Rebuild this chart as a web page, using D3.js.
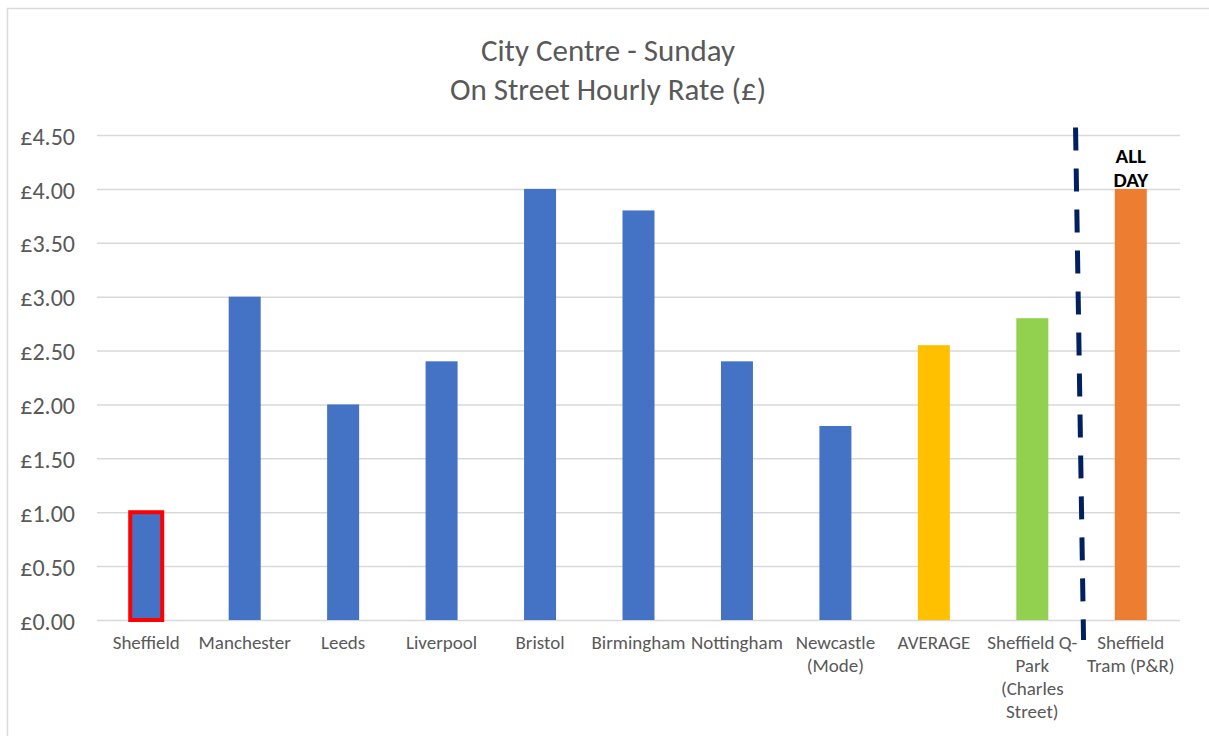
<!DOCTYPE html>
<html><head><meta charset="utf-8">
<script src="https://cdn.jsdelivr.net/npm/d3@7"></script>
<style>html,body{margin:0;padding:0;background:#fff;}svg{display:block;}</style>
</head><body>
<svg id="chart" width="1209" height="736"></svg>
<script>
const categories = ["Sheffield","Manchester","Leeds","Liverpool","Bristol","Birmingham","Nottingham","Newcastle (Mode)","AVERAGE","Sheffield Q-Park (Charles Street)","Sheffield Tram (P&R)"];
const categoryLines = [["Sheffield"],["Manchester"],["Leeds"],["Liverpool"],["Bristol"],["Birmingham"],["Nottingham"],["Newcastle","(Mode)"],["AVERAGE"],["Sheffield Q-","Park","(Charles","Street)"],["Sheffield","Tram (P&R)"]];
const values = [1.00,3.00,2.00,2.40,4.00,3.80,2.40,1.80,2.55,2.80,4.00];
const yTicks = [0,0.5,1,1.5,2,2.5,3,3.5,4,4.5];
const titleLines = ["City Centre - Sunday","On Street Hourly Rate (£)"];
const annotation = ["ALL","DAY"];
const groups = ["city","city","city","city","city","city","city","city","average","qpark","tram"];

(function(){
const font = "Carlito, Calibri, 'Liberation Sans Narrow', 'Open Sans', sans-serif";
const svg = d3.select("#chart");
svg.append("rect").attr("x",7.5).attr("y",8.5).attr("width",1230).attr("height",760)
  .attr("fill","#fff").attr("stroke","#d9d9d9").attr("stroke-width",1.5);

const mLeft = 97, mRight = 1180, mTop = 135, mBottom = 620;
const x = d3.scaleBand().domain(categories).range([mLeft,mRight]).paddingInner(0.675).paddingOuter(0.3375);
const y = d3.scaleLinear().domain([0,4.5]).range([mBottom,mTop]);
const colour = d3.scaleOrdinal().domain(["city","average","qpark","tram"]).range(["#4472C4","#FFC000","#92D050","#ED7D31"]);

const yAxis = d3.axisLeft(y).tickValues(yTicks).tickFormat(d=>"£"+d.toFixed(2)).tickSize(-(mRight-mLeft)).tickPadding(22);
const ga = svg.append("g").attr("transform",`translate(${mLeft},0)`).call(yAxis);
ga.select(".domain").remove();
ga.selectAll(".tick line").attr("stroke","#d9d9d9").attr("stroke-width",1.5);
ga.selectAll(".tick text").attr("fill","#595959").attr("dy","0.38em").style("font-family",font).style("font-size","24px");

svg.append("g").selectAll("text").data(titleLines).join("text")
  .attr("x",608).attr("y",(d,i)=>61+i*39).attr("text-anchor","middle")
  .attr("fill","#595959").style("font-family",font).style("font-size","31px").text(d=>d);

svg.append("g").selectAll("rect").data(categories).join("rect")
  .attr("x",d=>x(d)).attr("width",x.bandwidth())
  .attr("y",(d,i)=>y(values[i])).attr("height",(d,i)=>y(0)-y(values[i]))
  .attr("fill",(d,i)=>colour(groups[i]))
  .attr("stroke",(d,i)=>i===0?"#FF0000":"none").attr("stroke-width",(d,i)=>i===0?4:0);

const xl = svg.append("g");
categories.forEach((c,i)=>{
  xl.append("text").attr("text-anchor","middle")
    .attr("fill","#595959").style("font-family",font).style("font-size","19px")
    .selectAll("tspan").data(categoryLines[i]).join("tspan")
    .attr("x",x(c)+x.bandwidth()/2).attr("y",(d,j)=>649+j*23).text(d=>d);
});

const last = categories[categories.length-1];
const bx = x(last) - x.step()*x.paddingInner()/2;
svg.append("line").attr("x1",bx-6).attr("y1",y(4.57)).attr("x2",bx+2).attr("y2",y(0)+20)
  .attr("stroke","#002060").attr("stroke-width",5).attr("stroke-dasharray","23,18");

svg.append("g").selectAll("text").data(annotation).join("text")
  .attr("x",x(last)+x.bandwidth()/2).attr("y",(d,i)=>163+i*24).attr("text-anchor","middle")
  .attr("fill","#000").style("font-family",font).style("font-size","21px").style("font-weight","bold").text(d=>d);
})();
</script>
</body></html>
